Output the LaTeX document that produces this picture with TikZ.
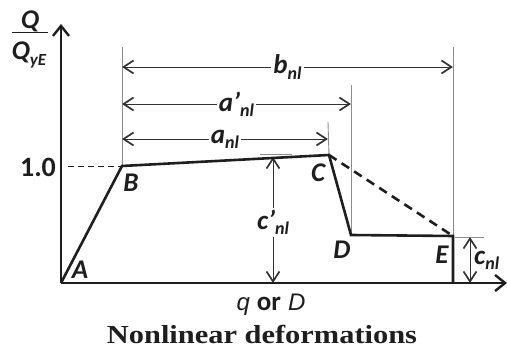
\documentclass[tikz,border=0pt]{standalone}
\usepackage{fontspec}
\setmainfont{Carlito}
\newfontfamily\capfont{Liberation Serif}
\newfontfamily\arialfont{Liberation Sans}
\usetikzlibrary{arrows.meta}
\definecolor{ink}{HTML}{1E1E1E}
\definecolor{dimc}{HTML}{333333}
\definecolor{extc}{HTML}{8C8C8C}
\newcommand{\lbl}[2]{{\bfseries\itshape #1\raisebox{-0.4ex}{\fontsize{18}{18}\selectfont #2}}}
\begin{document}
\begin{tikzpicture}[x=1pt,y=-1pt,
  curve/.style={line width=2.6pt, draw=ink, line join=miter},
  axisline/.style={line width=2.6pt, draw=ink, -{Straight Barb[length=10pt,width=16pt,line width=2.4pt]}},
  dimline/.style={draw=dimc, line width=0.9pt, {Straight Barb[length=10pt,width=13pt,line width=1.7pt]}-{Straight Barb[length=10pt,width=13pt,line width=1.7pt]}},
  extline/.style={draw=extc, line width=0.9pt},
  dimlbl/.style={fill=white, inner sep=2pt, font=\fontsize{27}{27}\selectfont, text=ink},
  ptlbl/.style={font=\fontsize{27}{27}\selectfont\bfseries\itshape, text=ink, inner sep=0pt},
  dashedcurve/.style={line width=2.6pt, draw=ink, dash pattern=on 9pt off 6pt}]
\useasboundingbox (0,0) rectangle (507,350);
% points
\coordinate (A) at (61,283);
\coordinate (B) at (122,166);
\coordinate (C) at (329,155);
\coordinate (D) at (351,235);
\coordinate (E) at (453,236);
\coordinate (F) at (453,283);
\coordinate (ytip) at (61,24);
\coordinate (xtip) at (507,283);
% extension lines
\coordinate (eB) at (122,47);
\coordinate (eC) at (328,122);
\coordinate (eD) at (351,85);
\coordinate (eE) at (453,47);
\coordinate (eEr1) at (455,237);
\coordinate (eEr2) at (484,237);
\coordinate (eCl1) at (260,154);
\coordinate (eCl2) at (292,154);
\draw[extline] (B) -- (eB);
\draw[extline] (C) -- (eC);
\draw[extline] (D) -- (eD);
\draw[extline] (E) -- (eE);
\draw[extline] (eEr1) -- (eEr2);
\draw[extline] (eCl1) -- (eCl2);
% 1.0 dashed
\coordinate (one) at (68,166);
\draw[draw=ink, line width=0.8pt, dash pattern=on 6pt off 4pt] (one) -- (B);
% dimension lines
\coordinate (b1) at (122,67); \coordinate (b2) at (453,67);
\coordinate (ap1) at (122,104); \coordinate (ap2) at (351,104);
\coordinate (a1) at (122,139); \coordinate (a2) at (328,139);
\coordinate (cp1) at (273,157); \coordinate (cp2) at (273,283);
\coordinate (c1) at (470,237); \coordinate (c2) at (470,283);
\draw[dimline] (b1) -- (b2) node[dimlbl, midway] (lb) {\lbl{b}{nl}};
\draw[dimline] (ap1) -- (ap2) node[dimlbl, midway] (lap) {\lbl{a'}{nl}};
\draw[dimline] (a1) -- (a2) node[dimlbl, midway] (la) {\lbl{a}{nl}};
\draw[dimline] (cp1) -- (cp2) node[dimlbl, pos=0.52] (lcp) {\lbl{c'}{nl}};
\draw[dimline] (c1) -- (c2);
\node[dimlbl, fill=none, anchor=west, inner sep=0pt] (lc) at (474,260) {\lbl{c}{nl}};
% backbone curve
\draw[dashedcurve] (C) -- (E);
\draw[curve] (A) -- (B) -- (C) -- (D) -- (E) -- (F);
% axes
\draw[axisline] (A) -- (ytip);
\draw[axisline] (A) -- (xtip);
% point labels
\node[ptlbl] (lA) at (80,270) {A};
\node[ptlbl] (lB) at (131,183) {B};
\node[ptlbl] (lC) at (318,173) {C};
\node[ptlbl] (lD) at (342,250) {D};
\node[ptlbl] (lE) at (442,255) {E};
\node[font=\fontsize{28}{28}\selectfont\bfseries, text=ink, inner sep=0pt] (lone) at (38,167) {1.0};
% y-axis label
\node[ptlbl] (lQ) at (30,21) {Q};
\coordinate (fr1) at (12,33); \coordinate (fr2) at (48,33);
\draw[ink, line width=1pt] (fr1) -- (fr2);
\node[ptlbl] (lQy) at (29,55) {Q\raisebox{-0.45ex}{\fontsize{17}{17}\selectfont yE}};
% x-axis label
\node[text=ink, inner sep=0pt] (lx) at (271,305) {\arialfont\fontsize{24}{24}\selectfont\itshape q\hspace{7pt}\fontspec{Carlito}\fontsize{27}{27}\selectfont\bfseries\upshape or\hspace{7pt}\arialfont\fontsize{24}{24}\selectfont\mdseries\itshape D};
% caption
\node[text=ink, inner sep=0pt] (cap) at (262,334) {\scalebox{1.17}[1]{\capfont\fontsize{26}{26}\selectfont\bfseries Nonlinear deformations}};
\end{tikzpicture}
\end{document}
